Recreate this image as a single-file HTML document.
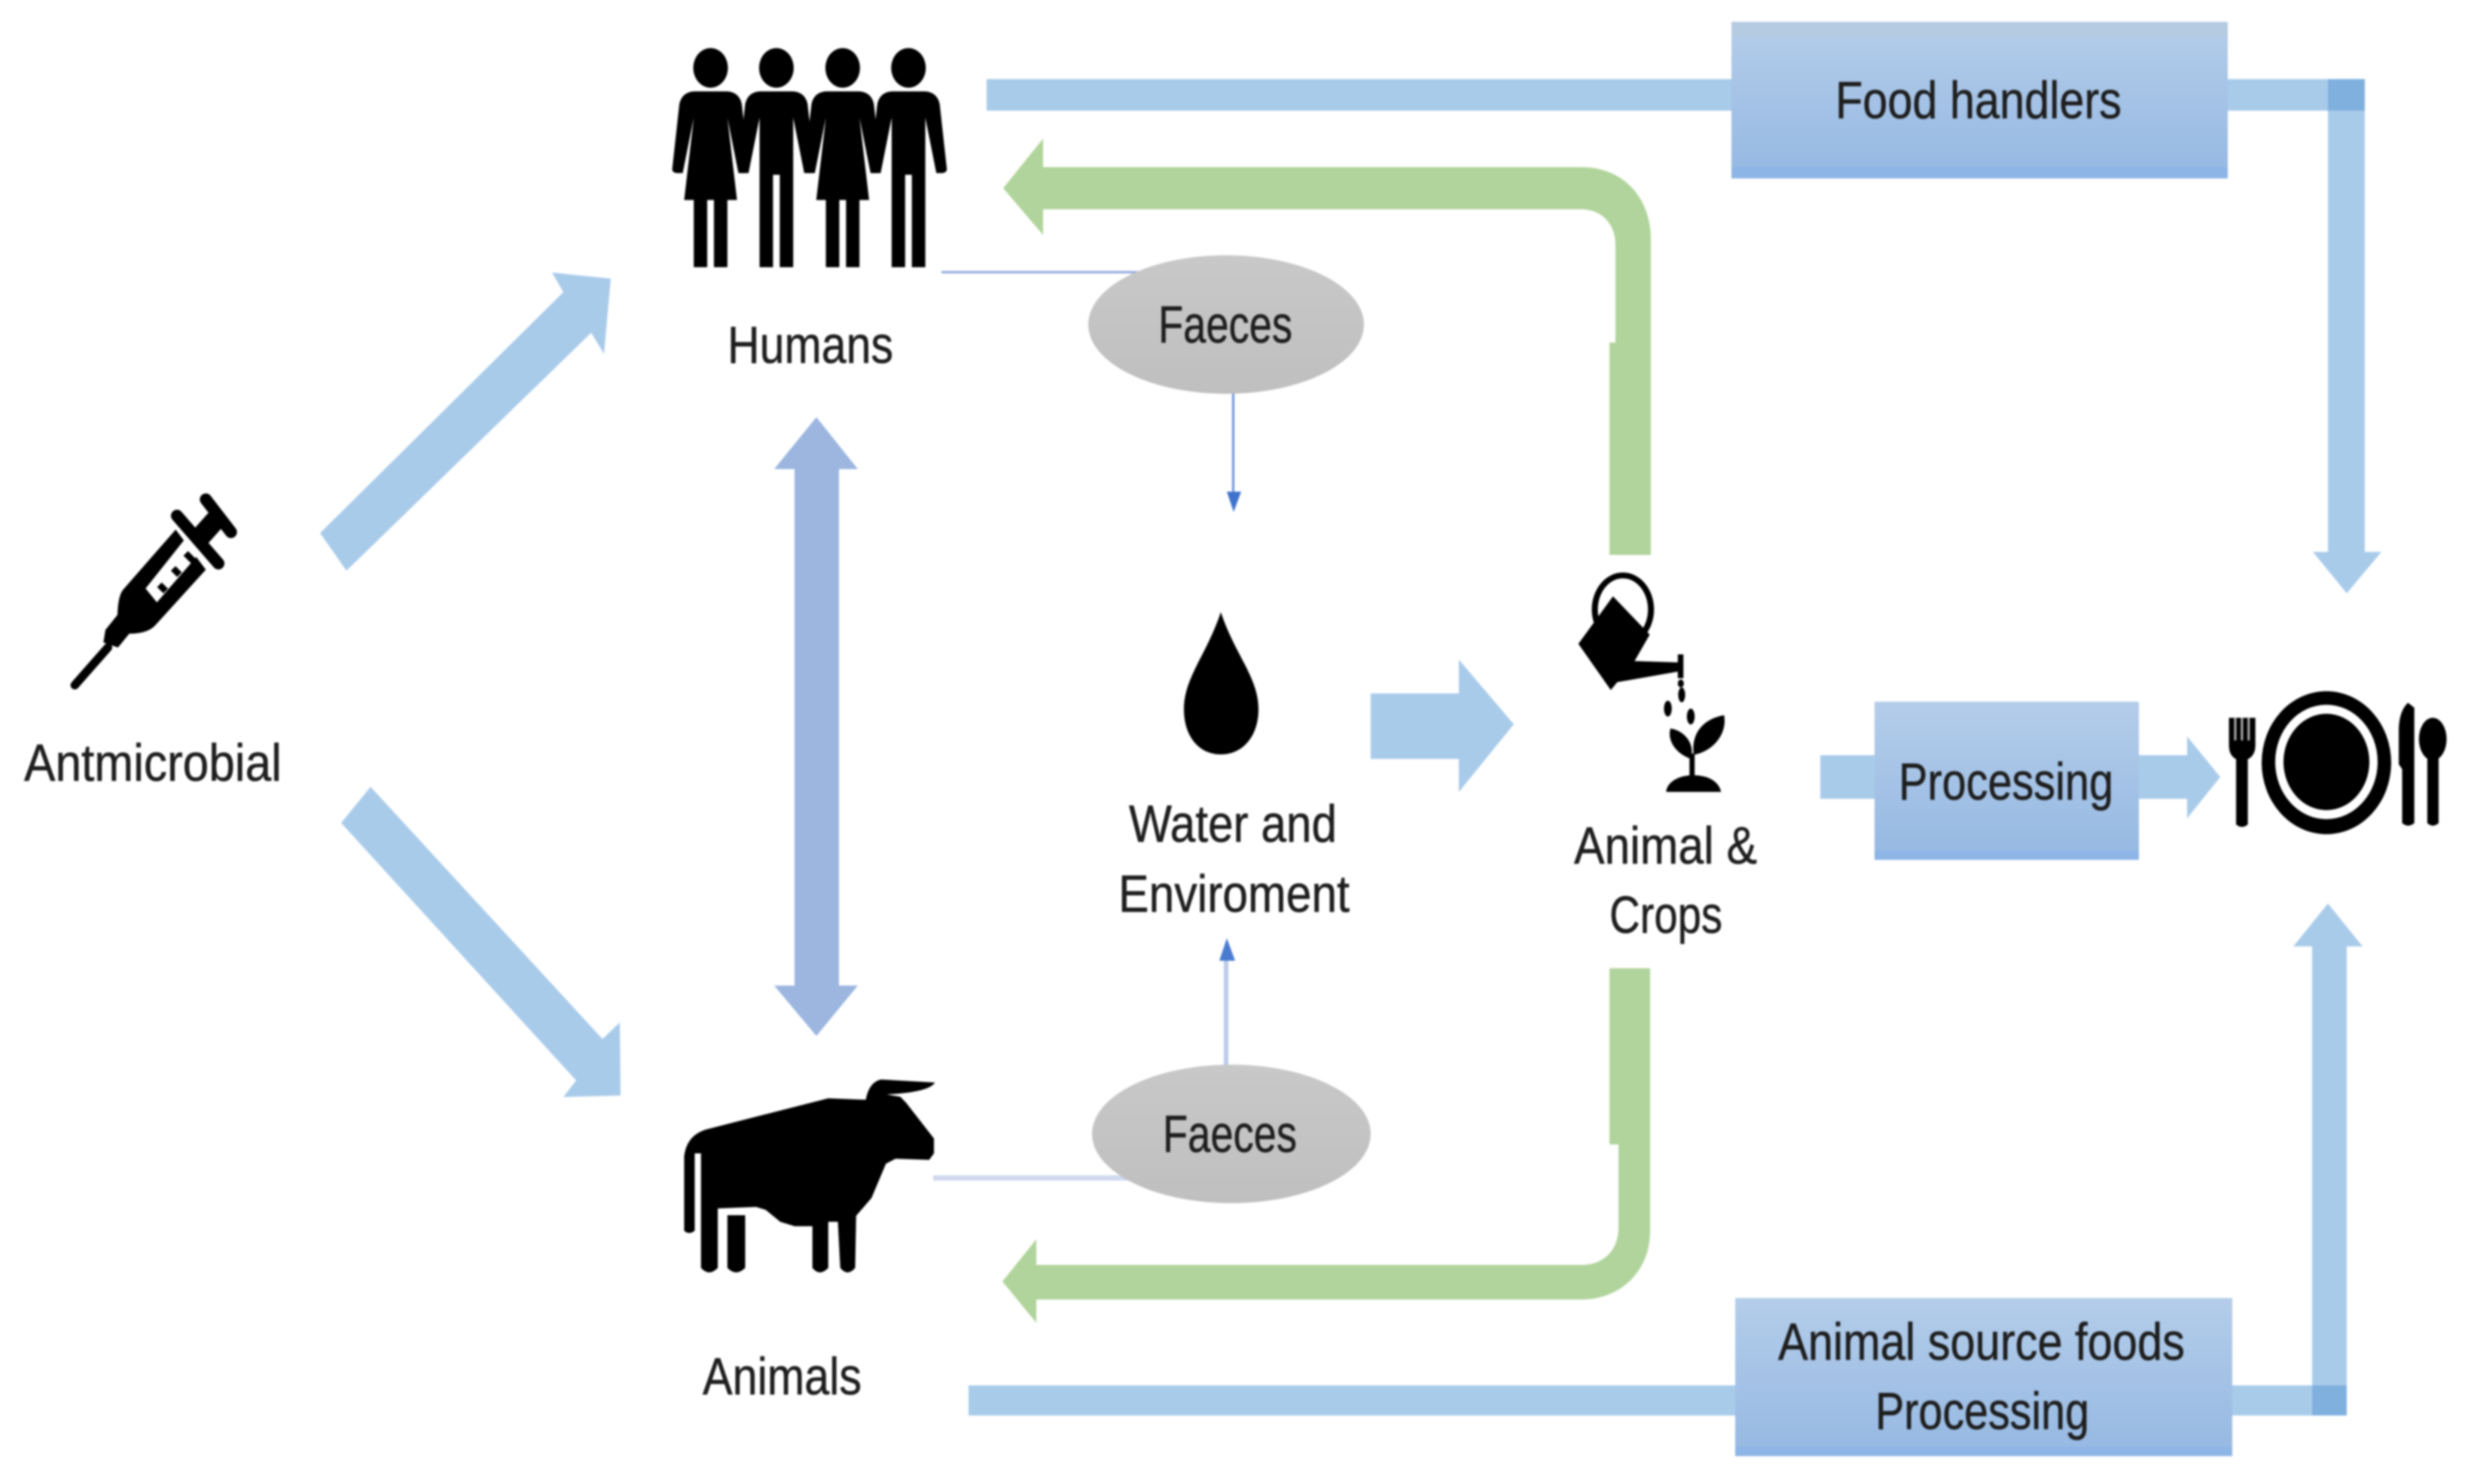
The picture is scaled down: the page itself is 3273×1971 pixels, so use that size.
<!DOCTYPE html>
<html>
<head>
<meta charset="utf-8">
<style>
html,body{margin:0;padding:0;background:#fff;width:3273px;height:1971px;overflow:hidden}
svg{display:block;filter:blur(1.2px)}
text{font-family:"Liberation Sans",sans-serif;font-size:70px;fill:#1e1e1e;stroke:#1e1e1e;stroke-width:.6px}
</style>
</head>
<body>
<svg xmlns="http://www.w3.org/2000/svg" width="3273" height="1971" viewBox="0 0 3273 1971">
<defs>
<linearGradient id="bx" x1="0" y1="0" x2="0" y2="1">
<stop offset="0" stop-color="#b4cdea"/><stop offset="1" stop-color="#95b8e2"/>
</linearGradient>
<linearGradient id="gr" x1="0" y1="0" x2="0" y2="1">
<stop offset="0" stop-color="#c8c8c8"/><stop offset="1" stop-color="#bfbfbf"/>
</linearGradient>
<path id="f" d="M-35,272 L35,272 Q60,275 65,310 L80,505 Q78,515 70,515 L58,515 L35,350 L55,595 L35,595 L35,795 L7,795 L7,595 L-7,595 L-7,795 L-35,795 L-35,595 L-55,595 L-35,350 L-58,515 L-70,515 Q-78,515 -80,505 L-65,310 Q-60,275 -35,272 Z"/>
<path id="m" d="M-35,272 L35,272 Q60,275 65,310 L80,505 Q78,515 70,515 L58,515 L35,350 L35,795 L7,795 L7,520 L-7,520 L-7,795 L-35,795 L-35,350 L-58,515 L-70,515 Q-78,515 -80,505 L-65,310 Q-60,275 -35,272 Z"/>
</defs>

<!-- diagonal arrows -->
<polygon fill="#a9cbea" points="425,708 460,758 785,442 802,470 811,370 733,362 748,388"/>
<polygon fill="#a9cbea" points="492,1045 800,1380 823,1358 824,1455 748,1457 765,1435 453,1093"/>

<!-- double arrow -->
<polygon fill="#9cb6e0" points="1084,554 1139,623 1114,623 1114,1309 1139,1309 1084,1376 1028,1309 1055,1309 1055,623 1028,623"/>

<!-- top & bottom bars -->
<rect x="1310" y="105" width="1830" height="42" fill="#a9cbea"/>
<polygon fill="#a9cbea" points="3091,147 3140,147 3140,733 3162,733 3116,788 3071,733 3091,733"/>
<rect x="3091" y="105" width="49" height="42" fill="#80b0de"/>
<rect x="1286" y="1840" width="1830" height="40" fill="#a9cbea"/>
<polygon fill="#a9cbea" points="3070,1840 3116,1840 3116,1257 3137,1257 3091,1200 3045,1257 3070,1257"/>
<rect x="3070" y="1840" width="46" height="40" fill="#80b0de"/>

<!-- green arrows -->
<path fill="#b1d49c" d="M1332,250 L1385,184 L1385,222 L2100,222 C2155,222 2192,262 2192,318 L2192,737 L2137,737 L2137,455 L2145,455 L2145,325 C2145,296 2125,278 2100,278 L1385,278 L1385,312 Z"/>
<path fill="#b1d49c" d="M1331,1702 L1376,1646 L1376,1680 L2100,1680 C2130,1680 2149,1660 2149,1630 L2149,1520 L2137,1520 L2137,1286 L2191,1286 L2191,1635 C2191,1690 2150,1726 2100,1726 L1376,1726 L1376,1757 Z"/>

<!-- middle arrows -->
<polygon fill="#a9cbea" points="1820,921 1937,921 1937,876 2010,962 1937,1052 1937,1008 1820,1008"/>
<rect x="2417" y="1003" width="80" height="58" fill="#a9cbea"/>
<polygon fill="#a9cbea" points="2830,1003 2904,1003 2904,978 2948,1032 2904,1087 2904,1061 2830,1061"/>

<!-- boxes -->
<rect x="2299" y="29" width="659" height="208" fill="url(#bx)"/>
<rect x="2299" y="29" width="659" height="20" fill="#b5cbe2"/>
<rect x="2299" y="222" width="659" height="15" fill="#8db5e6"/>
<rect x="2489" y="932" width="351" height="210" fill="url(#bx)"/>
<rect x="2489" y="1130" width="351" height="12" fill="#8db5e6"/>
<rect x="2304" y="1724" width="660" height="210" fill="url(#bx)"/>
<rect x="2304" y="1922" width="660" height="12" fill="#8db5e6"/>

<!-- thin lines -->
<rect x="1250" y="360" width="290" height="3" fill="#8fa8dc"/>
<rect x="1636" y="500" width="3" height="160" fill="#6f93d8"/>
<polygon fill="#3f74cc" points="1629,653 1648,653 1638,680"/>
<rect x="1239" y="1561" width="270" height="7" fill="#d0d9f0"/>
<rect x="1625" y="1270" width="6" height="150" fill="#bccbea"/>
<polygon fill="#4a7bd0" points="1619,1276 1640,1276 1629,1246"/>

<!-- ellipses -->
<ellipse cx="1628" cy="431" rx="183" ry="92" fill="url(#gr)"/>
<ellipse cx="1635" cy="1506" rx="185" ry="92" fill="url(#gr)"/>

<!-- humans -->
<g transform="translate(800,0) scale(.6378,.4464)" fill="#000">
<ellipse cx="225" cy="202" rx="36" ry="59"/><ellipse cx="362" cy="202" rx="36" ry="59"/>
<ellipse cx="500" cy="202" rx="36" ry="59"/><ellipse cx="637" cy="202" rx="36" ry="59"/>
<use href="#f" x="225"/><use href="#m" x="362"/><use href="#f" x="500"/><use href="#m" x="637"/>
</g>

<!-- syringe -->
<g transform="translate(0,600) scale(.3333)" fill="#000" stroke="none">
<path d="M700,310 L490,550 Q470,575 468,650 L420,710 L412,760 L470,780 L515,725 Q590,725 620,690 L820,470 Z"/>
<path d="M820,190 L920,320" stroke="#000" stroke-width="48" stroke-linecap="round"/>
<path d="M705,255 L870,445" stroke="#000" stroke-width="48" stroke-linecap="round"/>
<path d="M780,360 L860,270" stroke="#000" stroke-width="80"/>
<path d="M298,930 L430,780" stroke="#000" stroke-width="34" stroke-linecap="round"/>
<polygon points="735,350 790,410 625,600 580,545" fill="#fff"/>
<path d="M770,435 L740,405 M715,490 L690,465 M660,555 L635,530" stroke="#000" stroke-width="26"/>
</g>

<!-- cow -->
<g transform="translate(800,1350) scale(.6378,.3953)" fill="#000">
<path d="M170,720 L170,470 Q175,400 215,380 L470,275 L548,280 Q555,220 580,212 L692,222 Q680,255 592,262 L620,270 L632,290 L690,410 L690,460 L680,482 L610,478 L590,495 L560,610 L528,670 L526,845 Q510,875 495,845 L490,690 L470,690 L470,845 Q452,875 437,845 L437,705 L400,705 L370,690 L340,650 L320,640 L240,645 L240,845 Q222,875 205,845 L205,460 L192,460 L192,720 Q180,735 170,720 Z"/>
<path d="M260,668 L297,668 L297,845 Q278,875 260,845 Z"/>
</g>

<!-- water drop -->
<path fill="#000" d="M1621,813 C1640,870 1671,900 1671,942 C1671,978 1650,1002 1621,1002 C1592,1002 1572,978 1572,942 C1572,900 1602,870 1621,813 Z"/>

<!-- watering can and plant -->
<g transform="translate(1450,720) scale(.574,.351)" fill="#000">
<ellipse cx="1228" cy="255" rx="72" ry="140"/>
<ellipse cx="1228" cy="255" rx="58" ry="118" fill="#fff"/>
<path d="M1205,205 L1290,350 L1255,450 L1355,455 L1355,425 L1368,425 L1368,515 L1355,515 L1355,490 L1215,530 L1200,560 L1125,385 Z"/>
<ellipse cx="1362" cy="535" rx="7" ry="15"/>
<ellipse cx="1364" cy="578" rx="8" ry="28"/>
<ellipse cx="1332" cy="630" rx="9" ry="30"/>
<ellipse cx="1385" cy="660" rx="9" ry="30"/>
<path d="M1338,705 C1375,715 1395,770 1385,820 C1350,800 1330,750 1338,705 Z"/>
<path d="M1462,655 C1470,720 1440,790 1392,805 C1385,730 1410,670 1462,655 Z"/>
<rect x="1382" y="800" width="12" height="100"/>
<path d="M1328,945 C1330,905 1360,882 1390,882 C1425,882 1450,905 1455,945 Z"/>
</g>

<!-- plate -->
<ellipse cx="3089" cy="1013" rx="86" ry="95" fill="#000"/>
<ellipse cx="3089" cy="1012" rx="68" ry="76" fill="#fff"/>
<ellipse cx="3089" cy="1012" rx="57" ry="64" fill="#000"/>
<g transform="translate(2400,850) scale(.5568,.3333)" fill="#000">
<path d="M1005,310 L1005,420 Q1005,460 1022,475 L1022,735 Q1036,755 1050,735 L1050,475 Q1068,460 1068,420 L1068,310 Z"/>
<path d="M1020,310 V400 M1036,310 V400 M1052,310 V400" stroke="#bbb" stroke-width="5"/>
<path d="M1432,250 Q1412,280 1410,350 L1410,495 L1418,515 L1418,730 Q1432,750 1447,730 L1447,270 Z"/>
<ellipse cx="1491" cy="395" rx="33" ry="85"/>
<path d="M1478,460 L1505,460 L1505,730 Q1491,750 1478,730 Z"/>
</g>

<!-- labels -->
<text x="32" y="1037" textLength="342" lengthAdjust="spacingAndGlyphs">Antmicrobial</text>
<text x="966" y="482" textLength="220" lengthAdjust="spacingAndGlyphs">Humans</text>
<text x="1538" y="455" textLength="178" lengthAdjust="spacingAndGlyphs">Faeces</text>
<text x="1544" y="1530" textLength="178" lengthAdjust="spacingAndGlyphs">Faeces</text>
<text x="933" y="1852" textLength="211" lengthAdjust="spacingAndGlyphs">Animals</text>
<text x="1499" y="1118" textLength="276" lengthAdjust="spacingAndGlyphs">Water and</text>
<text x="1485" y="1211" textLength="307" lengthAdjust="spacingAndGlyphs">Enviroment</text>
<text x="2090" y="1147" textLength="243" lengthAdjust="spacingAndGlyphs">Animal &amp;</text>
<text x="2137" y="1239" textLength="150" lengthAdjust="spacingAndGlyphs">Crops</text>
<text x="2521" y="1062" textLength="285" lengthAdjust="spacingAndGlyphs">Processing</text>
<text x="2437" y="157" textLength="380" lengthAdjust="spacingAndGlyphs">Food handlers</text>
<text x="2361" y="1806" textLength="540" lengthAdjust="spacingAndGlyphs">Animal source foods</text>
<text x="2490" y="1898" textLength="284" lengthAdjust="spacingAndGlyphs">Processing</text>
</svg>
</body>
</html>
